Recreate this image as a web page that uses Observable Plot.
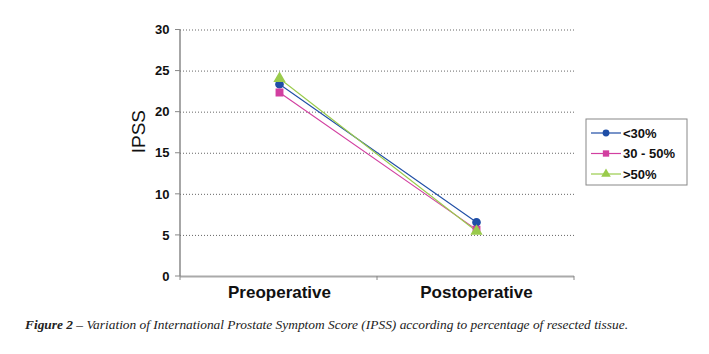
<!DOCTYPE html>
<html>
<head>
<meta charset="utf-8">
<script src="https://cdn.jsdelivr.net/npm/d3@7"></script>
<script src="https://cdn.jsdelivr.net/npm/@observablehq/plot@0.6"></script>
<style>
  html, body { margin: 0; padding: 0; background: #fff; }
  #chart { position: relative; width: 709px; height: 305px; }
  #caption { font-family: "Liberation Serif", "Times New Roman", serif; font-style: italic; font-size: 13.4px; color: #222; padding-left: 25px; margin-top: 12px; white-space: nowrap; }
</style>
</head>
<body>
<div id="chart"></div>
<div id="caption"><b>Figure 2</b> – Variation of International Prostate Symptom Score (IPSS) according to percentage of resected tissue.</div>
<script>
const categories = ["Preoperative", "Postoperative"];
const seriesNames = ["<30%", "30 - 50%", ">50%"];
const seriesColors = ["#1f4ea6", "#d23fa0", "#9acb4c"];
const seriesSymbols = ["circle", "square", "triangle"];
const valuesLt30 = [23.4, 6.6];
const values30to50 = [22.4, 5.7];
const valuesGt50 = [24.1, 5.5];
const yTicks = [0, 5, 10, 15, 20, 25, 30];
const yLabel = "IPSS";

const seriesValues = [valuesLt30, values30to50, valuesGt50];
const data = [];
seriesNames.forEach((s, i) => categories.forEach((c, j) => data.push({group: s, phase: c, value: seriesValues[i][j]})));

const W = 709, H = 305;
const plot = Plot.plot({
  width: W, height: H,
  marginLeft: 180, marginRight: 135, marginTop: 29.5, marginBottom: 29,
  style: {fontFamily: "Liberation Sans, Arial, sans-serif", background: "#fff"},
  x: {type: "point", domain: categories, padding: 0.5},
  y: {domain: [0, 30]},
  color: {domain: seriesNames, range: seriesColors},
  symbol: {domain: seriesNames, range: seriesSymbols},
  marks: [
    Plot.gridY(yTicks.filter(d => d > 0), {stroke: "#666", strokeOpacity: 1, strokeDasharray: "1,2"}),
    Plot.ruleY([0], {stroke: "#aaa", strokeWidth: 2}),
    Plot.axisY(yTicks, {tickSize: 0, tickPadding: 11, fontSize: 13, fontWeight: "bold", fill: "#111", label: null}),
    Plot.axisX(categories, {tickSize: 0, tickPadding: 9, fontSize: 17, fontWeight: "bold", fill: "#111", label: null}),
    Plot.text([yLabel], {frameAnchor: "left", rotate: -90, dx: -42, fontSize: 19, fill: "#111", text: d => d}),
    Plot.line(data, {x: "phase", y: "value", z: "group", stroke: "group", strokeWidth: 1.1}),
    Plot.dot(data, {x: "phase", y: "value", fill: "group", stroke: "group", symbol: "group", r: 3.6})
  ]
});
document.getElementById("chart").appendChild(plot);

// axis lines, boundary ticks and legend built from the plot's own scales
const svg = d3.select(plot);
const xs = plot.scale("x"), ys = plot.scale("y");
const x0 = xs.range[0], x1 = xs.range[1];
const step = (x1 - x0) / categories.length;
const yTop = ys.apply(30), yBot = ys.apply(0);
svg.append("line").attr("x1", x0).attr("x2", x0).attr("y1", yTop).attr("y2", yBot).attr("stroke", "#777").attr("stroke-width", 1.3);
svg.selectAll(".ytick").data(yTicks).join("line").attr("x1", x0 - 5).attr("x2", x0).attr("y1", d => ys.apply(d)).attr("y2", d => ys.apply(d)).attr("stroke", "#888");
d3.range(categories.length + 1).forEach(i => {
  const xx = x0 + i * step;
  svg.append("line").attr("x1", xx).attr("x2", xx).attr("y1", yBot).attr("y2", yBot + 4).attr("stroke", "#888");
});

const lg = svg.append("g").attr("transform", "translate(586,119)");
lg.append("rect").attr("width", 101).attr("height", 66).attr("fill", "#fff").attr("stroke", "#888");
seriesNames.forEach((s, i) => {
  const yy = 14 + i * 20.5;
  lg.append("line").attr("x1", 5).attr("x2", 35).attr("y1", yy).attr("y2", yy).attr("stroke", seriesColors[i]).attr("stroke-width", 1.2);
  const sym = d3.symbol().type([d3.symbolCircle, d3.symbolSquare, d3.symbolTriangle][i]).size(i === 0 ? 36 : 40);
  lg.append("path").attr("d", sym()).attr("transform", `translate(20,${yy})`).attr("fill", seriesColors[i]);
  lg.append("text").attr("x", 37).attr("y", yy).attr("dy", "0.35em").attr("text-anchor", "start").attr("font-size", 13).attr("font-weight", "bold").attr("fill", "#111").text(s);
});
</script>
</body>
</html>
